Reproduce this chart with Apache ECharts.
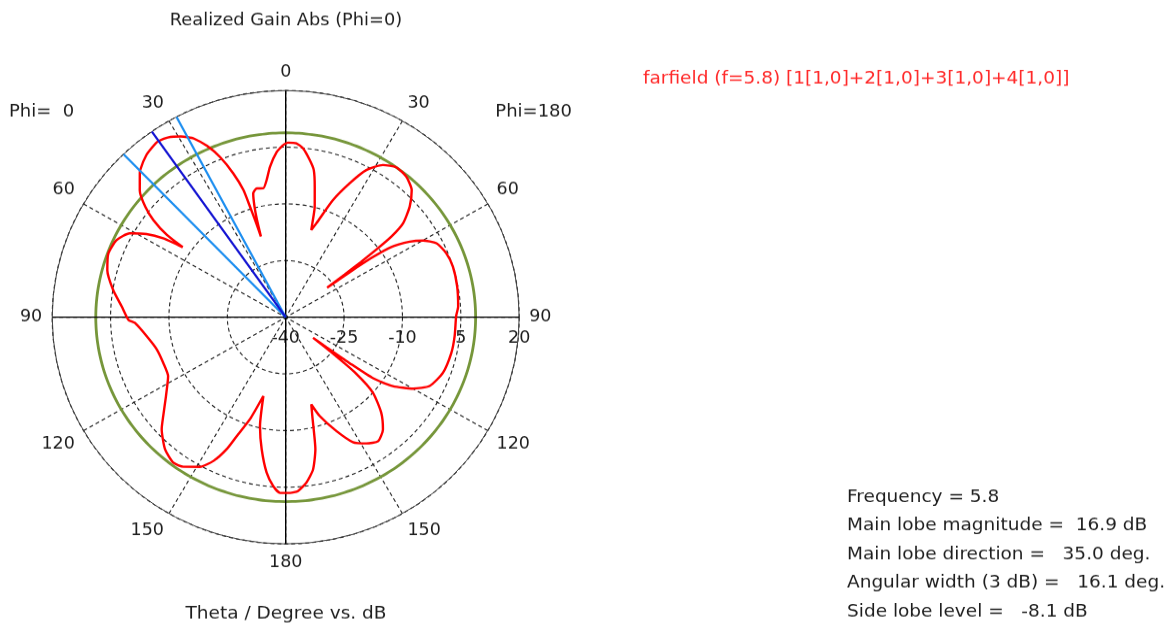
<!DOCTYPE html>
<html>
<head>
<meta charset="utf-8">
<script src="https://cdn.jsdelivr.net/npm/echarts@6/dist/echarts.min.js"></script>
<style>
  html, body { margin: 0; padding: 0; background: #fff; overflow: hidden; }
  /* the plot frame is slightly flattened vertically */
  #chart { width: 1165px; height: 660px; transform: scaleY(0.971); transform-origin: 0 0; }
</style>
</head>
<body>
<div id="chart"></div>
<script>
// Polar angle in degrees, counter-clockwise from the top:
// 0..180 is Theta on the Phi=0 side (left), 180..360 is 360-Theta on the Phi=180 side (right).
const angleDeg = [
  0.8, 3.0, 5.8, 7.7, 9.6, 12.3, 14.3, 15.3, 16.0, 16.6, 17.0, 17.4, 17.9, 19.5, 21.7, 24.0,
  26.5, 27.9, 29.4, 32.5, 35.0, 36.2, 39.8, 44.0, 44.7, 48.2, 51.0, 52.9, 54.5, 55.0, 55.5, 56.4,
  58.4, 61.0, 64.8, 69.7, 74.8, 80.8, 86.2, 91.0, 92.2, 97.9, 104.4, 111.0, 117.3, 124.2, 129.7,
  132.9, 138.4, 143.1, 146.4, 150.9, 154.0, 156.5, 158.2, 161.2, 164.6, 167.1, 170.0, 173.2, 175.9,
  178.2, 181.4, 183.9, 186.9, 189.9, 192.3, 194.6, 195.9, 198.5, 203.4, 207.6, 211.8, 215.9, 220.1,
  224.2, 228.3, 230.5, 231.6, 232.2, 232.8, 233.5, 234.3, 236.5, 240.0, 243.8, 250.0, 257.5, 263.5,
  270.4, 273.6, 280.4, 287.3, 292.3, 296.8, 299.9, 302.1, 304.5, 305.4, 305.9, 306.3, 306.7, 307.1,
  307.6, 308.2, 309.5, 312.6, 316.1, 320.2, 324.4, 328.2, 332.0, 335.1, 338.6, 342.4, 344.1, 344.6,
  345.7, 347.8, 349.5, 351.6, 354.3, 356.6, 359.3
];
// Realized gain (dB) at each angle above
const gainDb = [
  5.6, 3.8, 0.0, -3.4, -5.4, -5.1, -6.2, -9.6, -13.3, -17.7, -13.1, -9.4, -4.6, 0.4, 5.6, 9.6,
  12.8, 13.9, 14.9, 16.4, 16.9, 16.8, 15.9, 13.9, 13.3, 10.3, 6.4, 2.6, -2.5, -7.7, -5.8, -2.2,
  2.0, 5.8, 8.0, 8.6, 7.5, 4.9, 2.2, 0.4, -1.2, -3.9, -5.8, -6.3, -6.0, -2.8, 0.9,
  3.5, 6.7, 8.1, 7.5, 5.3, 2.3, -1.9, -6.1, -11.5, -18.4, -10.4, -4.5, 1.4, 4.8,
  6.5, 6.5, 6.1, 4.1, 0.9, -4.2, -12.8, -16.0, -12.4, -7.2, -2.7, -0.7, 0.5, -1.2,
  -4.8, -10.0, -16.6, -24.6, -31.1, -26.8, -19.6, -12.2, -7.0, -2.2, 1.2, 3.0, 3.6, 3.7,
  3.8, 4.4, 4.8, 5.0, 4.6, 3.4, 0.7, -2.4, -7.4, -12.8, -19.3, -26.8, -21.1, -15.8,
  -10.0, -5.2, -0.9, 3.3, 6.7, 8.4, 8.8, 7.4, 4.1, -0.9, -6.7, -13.9, -16.0, -14.2,
  -9.8, -4.7, -0.4, 2.1, 4.9, 6.1, 6.2
];

// Radial scale (dB) tick values
const radialTicks = [-40, -25, -10, 5, 20];
// Angular grid step (deg)
const angleStep = 30;

// Beam summary
const frequency = 5.8;
const mainLobeDb = 16.9;
const mainLobeDirDeg = 35.0;
const beamEdgesDeg = [27.9, 44.0];
const angularWidthDeg = 16.1;
const sideLobeRelDb = -8.1;
const sideLobeAbsDb = mainLobeDb + sideLobeRelDb;

const titleText = 'Realized Gain Abs (Phi=0)';
const xTitleText = 'Theta / Degree vs. dB';
const legendText = 'farfield (f=5.8) [1[1,0]+2[1,0]+3[1,0]+4[1,0]]';
const infoLines = [
  'Frequency = ' + frequency,
  'Main lobe magnitude =  ' + mainLobeDb.toFixed(1) + ' dB',
  'Main lobe direction =   ' + mainLobeDirDeg.toFixed(1) + ' deg.',
  'Angular width (3 dB) =   ' + angularWidthDeg.toFixed(1) + ' deg.',
  'Side lobe level =   ' + sideLobeRelDb.toFixed(1) + ' dB'
];

const FONT = "'DejaVu Sans', Verdana, sans-serif";
const TXT = '#1e1e1e';
const SY = 0.971;               // vertical flattening applied by CSS
const Y = v => v / SY;          // place an item at a given on-screen y
const CX = 285.7, CY = Y(317.2), R = 233.5;

const rMin = radialTicks[0], rMax = radialTicks[radialTicks.length - 1];
const rStep = radialTicks[1] - radialTicks[0];

const pattern = angleDeg.map((a, i) => [gainDb[i], a]);
pattern.push(pattern[0]);

const sideLobeRing = [];
for (let a = 0; a <= 360; a += 2) sideLobeRing.push([sideLobeAbsDb, a]);

const spoke = a => [[rMin, a], [rMax, a]];

const chart = echarts.init(document.getElementById('chart'), null, { width: 1165, height: 660 });

const lineSeries = (data, color, width, z, extra) => Object.assign({
  type: 'line', coordinateSystem: 'polar', polarIndex: 0, data,
  showSymbol: false, symbol: 'none', silent: true, z,
  lineStyle: { color, width }
}, extra || {});

const text = (t, x, y, size, fill, align) => ({
  type: 'text',
  style: { text: t, x, y: Y(y), align: align || 'left', verticalAlign: 'middle',
           font: `${size}px ${FONT}`, fill: fill || TXT }
});

chart.setOption({
  animation: false,
  backgroundColor: '#ffffff',
  polar: [
    { center: [CX, CY], radius: R },
    { center: [CX, CY], radius: R }
  ],
  angleAxis: [
    {
      polarIndex: 0, type: 'value', min: 0, max: 360, interval: angleStep,
      startAngle: 90, clockwise: false,
      axisLine: { lineStyle: { color: '#444', width: 1 } },
      axisTick: { show: false },
      axisLabel: {
        margin: 10, color: TXT, fontSize: 17.5, fontFamily: FONT,
        formatter: v => String(v <= 180 ? v : 360 - v)
      },
      splitLine: { lineStyle: { color: '#222', width: 1.1, type: [4, 3] } }
    },
    { polarIndex: 1, type: 'value', min: 0, max: 360, startAngle: 0, show: false }
  ],
  radiusAxis: [
    {
      polarIndex: 0, type: 'value', min: rMin, max: rMax, interval: rStep,
      axisLine: { show: false }, axisTick: { show: false }, axisLabel: { show: false },
      splitLine: { lineStyle: { color: '#222', width: 1.1, type: [4, 3] } }
    },
    {
      polarIndex: 1, type: 'value', min: rMin, max: rMax, interval: rStep,
      axisLine: { show: false }, axisTick: { show: false }, splitLine: { show: false },
      axisLabel: {
        margin: -Y(21), verticalAlign: 'middle', align: 'center',
        color: TXT, fontSize: 17.5, fontFamily: FONT
      }
    }
  ],
  series: [
    lineSeries(sideLobeRing, '#76963a', 2.8, 3, { smooth: true }),
    lineSeries(spoke(0), '#000', 1.4, 4),
    lineSeries(spoke(90), '#000', 1.4, 4),
    lineSeries(spoke(180), '#000', 1.4, 4),
    lineSeries(spoke(270), '#000', 1.4, 4),
    lineSeries(pattern, '#ff0000', 2.4, 5, { smooth: 0.2 }),
    lineSeries(spoke(beamEdgesDeg[0]), '#1e8ff0', 2.2, 6),
    lineSeries(spoke(beamEdgesDeg[1]), '#1e8ff0', 2.2, 6),
    lineSeries(spoke(mainLobeDirDeg), '#1414d2', 2.2, 7)
  ],
  graphic: [
    text(titleText, 286, 21, 17.8, TXT, 'center'),
    text('Phi=  0', 9, 112, 18, TXT),
    text('Phi=180', 572, 112, 18, TXT, 'right'),
    text(legendText, 643, 79, 18.5, '#ff2a2a'),
    text(xTitleText, 286, 614, 18.5, TXT, 'center')
  ].concat(infoLines.map((t, i) => text(t, 847, 497 + i * 28.7, 18.5, TXT)))
});
</script>
</body>
</html>
